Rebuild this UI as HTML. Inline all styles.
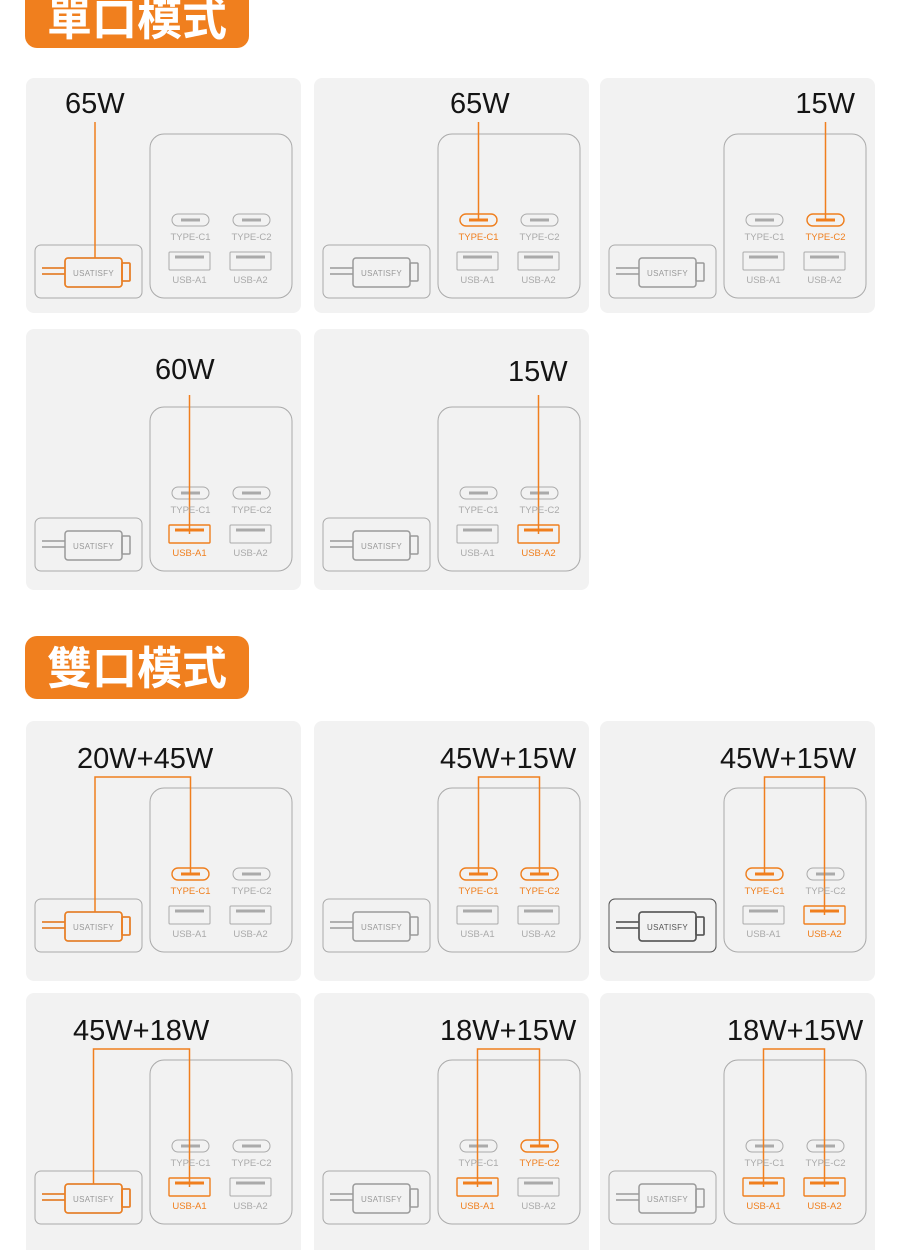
<!DOCTYPE html>
<html><head><meta charset="utf-8"><style>
html,body{margin:0;padding:0;background:#fff;width:900px;height:1250px;overflow:hidden}
svg{display:block}
.t{font-family:"Liberation Sans","Noto Sans CJK TC",sans-serif;font-size:29px;fill:#141414}
.h{font-family:"Liberation Sans","Noto Sans CJK TC",sans-serif;font-size:45px;font-weight:bold;fill:#fff}
.l{font-family:"Liberation Sans",sans-serif;font-size:9.5px;fill:#aaa;text-anchor:middle}
.lo{fill:#f07f1e}
.u{font-family:"Liberation Sans",sans-serif;font-size:8px;fill:#999;text-anchor:middle;letter-spacing:.3px}
.cn{fill:none;stroke:#f07f1e;stroke-width:1.5}
</style></head><body>
<svg width="900" height="1250" viewBox="0 0 900 1250" xmlns="http://www.w3.org/2000/svg">
<defs>
<g id="base">
<rect x="124" y="56" width="142" height="164" rx="14" fill="none" stroke="#aaa" stroke-width="1"/>
<rect x="9" y="167" width="107" height="53" rx="6" fill="none" stroke="#aaa" stroke-width="1"/>
<g fill="none" stroke="#999" stroke-width="1.5">
<line x1="16" y1="190" x2="39" y2="190"/><line x1="16" y1="196" x2="39" y2="196"/>
<rect x="39" y="180" width="57" height="29" rx="3"/>
<rect x="96" y="185" width="8" height="18" rx="1"/>
</g>
<g fill="none" stroke="#aaa" stroke-width="1">
<rect x="146" y="136" width="37" height="12" rx="6"/>
<rect x="207" y="136" width="37" height="12" rx="6"/>
<rect x="143" y="174" width="41" height="18" rx="1"/>
<rect x="204" y="174" width="41" height="18" rx="1"/>
</g>
<g stroke="#aaa" stroke-width="3">
<line x1="155" y1="142" x2="174" y2="142"/><line x1="216" y1="142" x2="235" y2="142"/>
<line x1="149" y1="179" x2="178" y2="179"/><line x1="210" y1="179" x2="239" y2="179"/>
</g>
</g>
<g id="cab">
<line x1="16" y1="190" x2="39" y2="190"/><line x1="16" y1="196" x2="39" y2="196"/>
<rect x="39" y="180" width="57" height="29" rx="3"/>
<rect x="96" y="185" width="8" height="18" rx="1"/>
</g>
<g id="c1"><rect x="146" y="136" width="37" height="12" rx="6" fill="none" stroke="#f07f1e" stroke-width="1.4"/><line x1="155" y1="142" x2="174" y2="142" stroke="#f07f1e" stroke-width="3"/></g>
<g id="c2"><rect x="207" y="136" width="37" height="12" rx="6" fill="none" stroke="#f07f1e" stroke-width="1.4"/><line x1="216" y1="142" x2="235" y2="142" stroke="#f07f1e" stroke-width="3"/></g>
<g id="a1"><rect x="143" y="174" width="41" height="18" rx="1" fill="none" stroke="#f07f1e" stroke-width="1.4"/><line x1="149" y1="179" x2="178" y2="179" stroke="#f07f1e" stroke-width="3"/></g>
<g id="a2"><rect x="204" y="174" width="41" height="18" rx="1" fill="none" stroke="#f07f1e" stroke-width="1.4"/><line x1="210" y1="179" x2="239" y2="179" stroke="#f07f1e" stroke-width="3"/></g>
</defs>

<rect x="25" y="-12" width="224" height="60" rx="12" fill="#f07f1e"/>
<text class="h" x="137" y="35" text-anchor="middle">單口模式</text>
<rect x="25" y="636" width="224" height="63" rx="12" fill="#f07f1e"/>
<text class="h" x="137" y="684" text-anchor="middle">雙口模式</text>

<g transform="translate(26,78)">
<rect width="275" height="235" rx="8" fill="#f2f2f2"/>
<text class="t" x="39" y="35">65W</text>
<g><use href="#base"/>
<use href="#cab" fill="none" stroke="#f07f1e" stroke-width="1.6"/>
<line class="cn" x1="69" y1="44" x2="69" y2="180"/>
<text class="u lo" x="67.5" y="198">USATISFY</text>
<text class="l" x="164.5" y="162">TYPE-C1</text><text class="l" x="225.5" y="162">TYPE-C2</text>
<text class="l" x="163.5" y="205">USB-A1</text><text class="l" x="224.5" y="205">USB-A2</text></g>
</g>
<g transform="translate(314,78)">
<rect width="275" height="235" rx="8" fill="#f2f2f2"/>
<text class="t" x="136" y="35">65W</text>
<g><use href="#base"/><use href="#c1"/>
<line class="cn" x1="164.5" y1="44" x2="164.5" y2="142"/>
<text class="u" x="67.5" y="198">USATISFY</text>
<text class="l lo" x="164.5" y="162">TYPE-C1</text><text class="l" x="225.5" y="162">TYPE-C2</text>
<text class="l" x="163.5" y="205">USB-A1</text><text class="l" x="224.5" y="205">USB-A2</text></g>
</g>
<g transform="translate(600,78)">
<rect width="275" height="235" rx="8" fill="#f2f2f2"/>
<text class="t" x="255" y="35" text-anchor="end">15W</text>
<g><use href="#base"/><use href="#c2"/>
<line class="cn" x1="225.5" y1="44" x2="225.5" y2="142"/>
<text class="u" x="67.5" y="198">USATISFY</text>
<text class="l" x="164.5" y="162">TYPE-C1</text><text class="l lo" x="225.5" y="162">TYPE-C2</text>
<text class="l" x="163.5" y="205">USB-A1</text><text class="l" x="224.5" y="205">USB-A2</text></g>
</g>
<g transform="translate(26,329)">
<rect width="275" height="261" rx="8" fill="#f2f2f2"/>
<text class="t" x="129" y="50">60W</text>
<g transform="translate(0,22)"><use href="#base"/><use href="#a1"/>
<line class="cn" x1="163.5" y1="44" x2="163.5" y2="183"/>
<text class="u" x="67.5" y="198">USATISFY</text>
<text class="l" x="164.5" y="162">TYPE-C1</text><text class="l" x="225.5" y="162">TYPE-C2</text>
<text class="l lo" x="163.5" y="205">USB-A1</text><text class="l" x="224.5" y="205">USB-A2</text></g>
</g>
<g transform="translate(314,329)">
<rect width="275" height="261" rx="8" fill="#f2f2f2"/>
<text class="t" x="194" y="52">15W</text>
<g transform="translate(0,22)"><use href="#base"/><use href="#a2"/>
<line class="cn" x1="224.5" y1="44" x2="224.5" y2="183"/>
<text class="u" x="67.5" y="198">USATISFY</text>
<text class="l" x="164.5" y="162">TYPE-C1</text><text class="l" x="225.5" y="162">TYPE-C2</text>
<text class="l" x="163.5" y="205">USB-A1</text><text class="l lo" x="224.5" y="205">USB-A2</text></g>
</g>

<g transform="translate(26,721)">
<rect width="275" height="260" rx="8" fill="#f2f2f2"/>
<text class="t" x="51" y="47">20W+45W</text>
<g transform="translate(0,11)"><use href="#base"/>
<use href="#cab" fill="none" stroke="#f07f1e" stroke-width="1.6"/><use href="#c1"/>
<polyline class="cn" points="69,180 69,45 164.5,45 164.5,142"/>
<text class="u lo" x="67.5" y="198">USATISFY</text>
<text class="l lo" x="164.5" y="162">TYPE-C1</text><text class="l" x="225.5" y="162">TYPE-C2</text>
<text class="l" x="163.5" y="205">USB-A1</text><text class="l" x="224.5" y="205">USB-A2</text></g>
</g>
<g transform="translate(314,721)">
<rect width="275" height="260" rx="8" fill="#f2f2f2"/>
<text class="t" x="126" y="47">45W+15W</text>
<g transform="translate(0,11)"><use href="#base"/><use href="#c1"/><use href="#c2"/>
<polyline class="cn" points="164.5,142 164.5,45 225.5,45 225.5,142"/>
<text class="u" x="67.5" y="198">USATISFY</text>
<text class="l lo" x="164.5" y="162">TYPE-C1</text><text class="l lo" x="225.5" y="162">TYPE-C2</text>
<text class="l" x="163.5" y="205">USB-A1</text><text class="l" x="224.5" y="205">USB-A2</text></g>
</g>
<g transform="translate(600,721)">
<rect width="275" height="260" rx="8" fill="#f2f2f2"/>
<text class="t" x="120" y="47">45W+15W</text>
<g transform="translate(0,11)"><use href="#base"/>
<rect x="9" y="167" width="107" height="53" rx="6" fill="none" stroke="#555" stroke-width="1"/>
<use href="#cab" fill="none" stroke="#555" stroke-width="1.6"/>
<use href="#c1"/><use href="#a2"/>
<polyline class="cn" points="164.5,142 164.5,45 224.5,45 224.5,183"/>
<text class="u" x="67.5" y="198" style="fill:#555">USATISFY</text>
<text class="l lo" x="164.5" y="162">TYPE-C1</text><text class="l" x="225.5" y="162">TYPE-C2</text>
<text class="l" x="163.5" y="205">USB-A1</text><text class="l lo" x="224.5" y="205">USB-A2</text></g>
</g>
<g transform="translate(26,993)">
<rect width="275" height="270" rx="8" fill="#f2f2f2"/>
<text class="t" x="47" y="47">45W+18W</text>
<g transform="translate(0,11)"><use href="#base"/>
<use href="#cab" fill="none" stroke="#f07f1e" stroke-width="1.6"/><use href="#a1"/>
<polyline class="cn" points="67.5,180 67.5,45 163.5,45 163.5,183"/>
<text class="u lo" x="67.5" y="198">USATISFY</text>
<text class="l" x="164.5" y="162">TYPE-C1</text><text class="l" x="225.5" y="162">TYPE-C2</text>
<text class="l lo" x="163.5" y="205">USB-A1</text><text class="l" x="224.5" y="205">USB-A2</text></g>
</g>
<g transform="translate(314,993)">
<rect width="275" height="270" rx="8" fill="#f2f2f2"/>
<text class="t" x="126" y="47">18W+15W</text>
<g transform="translate(0,11)"><use href="#base"/><use href="#a1"/><use href="#c2"/>
<polyline class="cn" points="163.5,183 163.5,45 225.5,45 225.5,142"/>
<text class="u" x="67.5" y="198">USATISFY</text>
<text class="l" x="164.5" y="162">TYPE-C1</text><text class="l lo" x="225.5" y="162">TYPE-C2</text>
<text class="l lo" x="163.5" y="205">USB-A1</text><text class="l" x="224.5" y="205">USB-A2</text></g>
</g>
<g transform="translate(600,993)">
<rect width="275" height="270" rx="8" fill="#f2f2f2"/>
<text class="t" x="127" y="47">18W+15W</text>
<g transform="translate(0,11)"><use href="#base"/><use href="#a1"/><use href="#a2"/>
<polyline class="cn" points="163.5,183 163.5,45 224.5,45 224.5,183"/>
<text class="u" x="67.5" y="198">USATISFY</text>
<text class="l" x="164.5" y="162">TYPE-C1</text><text class="l" x="225.5" y="162">TYPE-C2</text>
<text class="l lo" x="163.5" y="205">USB-A1</text><text class="l lo" x="224.5" y="205">USB-A2</text></g>
</g>
</svg>
</body></html>
